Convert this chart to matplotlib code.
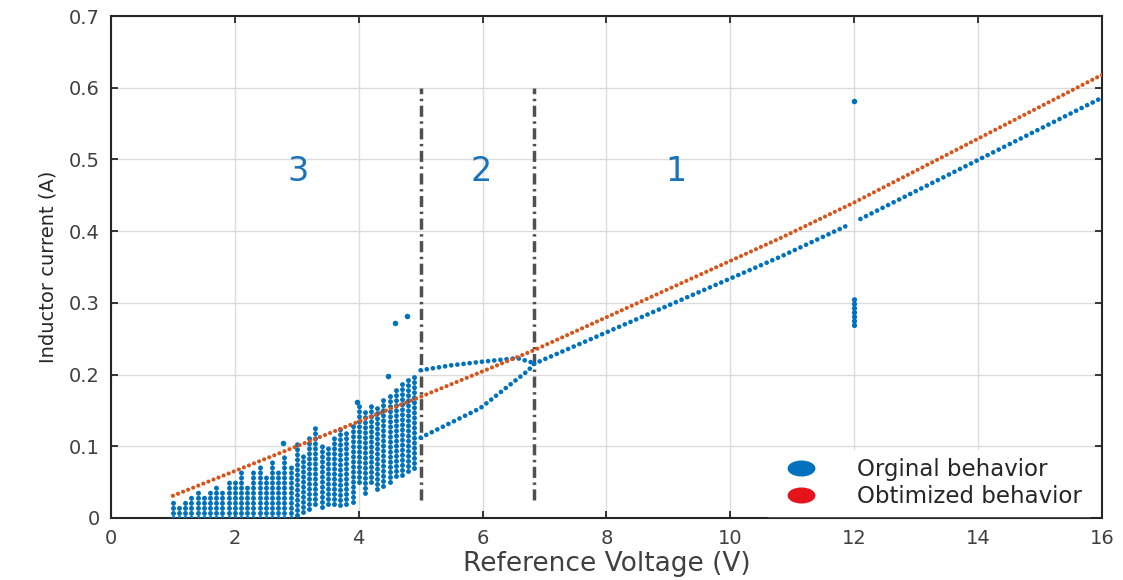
import matplotlib
matplotlib.use('Agg')
import matplotlib.pyplot as plt
from matplotlib.lines import Line2D
from matplotlib.path import Path
from matplotlib.transforms import Affine2D

# ---------------- data ----------------
# optimized behaviour (dense dotted line)
opt_x = [1.0, 5.0, 6.83, 10.8, 12.0, 16.0]
opt_y = [0.031, 0.169, 0.234, 0.390, 0.440, 0.618]

# original behaviour, region 1 (two pieces, gap at 12 V)
reg1a_x = [6.83, 10.8, 11.94]
reg1a_y = [0.215, 0.364, 0.410]
reg1b_x = [12.1, 16.0]
reg1b_y = [0.417, 0.586]

# original behaviour, region 2 (upper and lower branch)
up_x = [5.0, 5.5, 6.0, 6.56, 6.83]
up_y = [0.206, 0.213, 0.218, 0.223, 0.216]
low_x = [5.0, 5.96, 6.74, 6.83]
low_y = [0.112, 0.153, 0.206, 0.215]

# original behaviour, region 3 (columns of scattered points)
col_x = [1.0, 1.1, 1.2, 1.3, 1.4, 1.5, 1.6, 1.7, 1.8, 1.9,
         2.0, 2.1, 2.2, 2.3, 2.4, 2.5, 2.6, 2.7, 2.8, 2.9,
         3.0, 3.1, 3.2, 3.3, 3.4, 3.5, 3.6, 3.7, 3.8, 3.9,
         4.0, 4.1, 4.2, 4.3, 4.4, 4.5, 4.6, 4.7, 4.8, 4.9]
col_top = [0.025, 0.020, 0.027, 0.030, 0.038, 0.030, 0.040, 0.043, 0.036, 0.050,
           0.053, 0.064, 0.048, 0.066, 0.071, 0.060, 0.082, 0.070, 0.085, 0.075,
           0.105, 0.090, 0.112, 0.125, 0.100, 0.098, 0.115, 0.130, 0.120, 0.130,
           0.160, 0.150, 0.160, 0.158, 0.168, 0.176, 0.180, 0.190, 0.197, 0.200]
col_bot = [0.0, 0.0, 0.0, 0.0, 0.0, 0.0, 0.0, 0.0, 0.0, 0.0,
           0.0, 0.0, 0.0, 0.0, 0.0, 0.0, 0.0, 0.0, 0.0, 0.0,
           0.004, 0.008, 0.012, 0.020, 0.015, 0.020, 0.020, 0.018, 0.020, 0.022,
           0.050, 0.035, 0.050, 0.040, 0.045, 0.050, 0.058, 0.060, 0.065, 0.070]

# single stray points
stray_x = [2.78, 3.97, 4.47, 4.59, 4.78, 12.0]
stray_y = [0.104, 0.162, 0.198, 0.272, 0.282, 0.582]

# short vertical run of points at 12 V
run12_x = [12.0, 12.0]
run12_y = [0.269, 0.305]

# region borders and labels
border_x = [5.0, 6.83]
border_y = [0.025, 0.6]
region_labels = ["3", "2", "1"]
region_x = [3.02, 5.98, 9.13]
region_y = [0.483, 0.483, 0.483]

xticks = [0, 2, 4, 6, 8, 10, 12, 14, 16]
yticks = [0, 0.1, 0.2, 0.3, 0.4, 0.5, 0.6, 0.7]

blue = "#0072BD"
orange = "#D95319"
dots = (0, (0.01, 1.3))

plt.rcParams['font.family'] = ['DejaVu Sans']

fig = plt.figure(figsize=(11.23, 5.8), dpi=100)
ax = fig.add_axes([0.0988, 0.1069, 0.8825, 0.8655])

# grid
ax.grid(True, color="#dcdcdc", linewidth=1.0)
ax.set_axisbelow(True)

# region borders
for bx in border_x:
    ax.plot([bx, bx], border_y, color="#505050", linewidth=2.5,
            linestyle=(0, (3.2, 1.3, 0.7, 1.3)), zorder=2)

# region 3 columns
vl = ax.vlines(col_x, col_bot, col_top, colors=blue, linewidth=3.6,
               linestyles=(0, (0.01, 1.0)), zorder=3)
vl.set_capstyle("round")

# original behaviour lines
for xs, ys in [(reg1a_x, reg1a_y), (reg1b_x, reg1b_y), (up_x, up_y), (low_x, low_y)]:
    ax.plot(xs, ys, color=blue, linewidth=3.4, linestyle=dots,
            dash_capstyle="round", zorder=3)
ax.plot(run12_x, run12_y, color=blue, linewidth=3.8, linestyle=(0, (0.01, 0.8)),
        dash_capstyle="round", zorder=3)
ax.scatter(stray_x, stray_y, s=16, color=blue, zorder=3, linewidths=0)

# optimized behaviour
ax.plot(opt_x, opt_y, color=orange, linewidth=3.0, linestyle=dots,
        dash_capstyle="round", zorder=4)

# region numbers
for lab, tx, ty in zip(region_labels, region_x, region_y):
    ax.text(tx, ty, lab, color="#1a73b8", fontsize=24, ha="center", va="center")

ax.set_xlim(0, 16)
ax.set_ylim(0, 0.7)
ax.set_xticks(xticks)
ax.set_yticks(yticks)
ax.set_yticklabels(["0", "0.1", "0.2", "0.3", "0.4", "0.5", "0.6", "0.7"])
ax.tick_params(direction="in", length=5, width=1.3, top=True, right=True,
               labelsize=14, labelcolor="#404040", color="#262626", pad=8)
for sp in ax.spines.values():
    sp.set_color("#262626")
    sp.set_linewidth(1.5)

ax.set_xlabel("Reference Voltage (V)", fontsize=19, color="#404040", labelpad=2)
ax.set_ylabel("Inductor current (A)", fontsize=14, color="#262626", labelpad=8)

# legend with wide oval markers
oval = Affine2D().scale(1.8, 1.0).transform_path(Path.unit_circle())
handles = [
    Line2D([], [], linestyle="none", marker=oval, markersize=19,
           color=blue, label="Orginal behavior"),
    Line2D([], [], linestyle="none", marker=oval, markersize=19,
           color="#E5141B", label="Obtimized behavior"),
]
leg = ax.legend(handles=handles, loc="lower right", bbox_to_anchor=(0.99, 0.0),
                fontsize=16.5, frameon=True, framealpha=1, edgecolor="white",
                facecolor="white", fancybox=False, handlelength=2.2,
                handletextpad=1.35, labelspacing=0.15, borderaxespad=0.1,
                borderpad=0.35)
for t in leg.get_texts():
    t.set_color("#262626")

fig.savefig("out.png", dpi=100)
